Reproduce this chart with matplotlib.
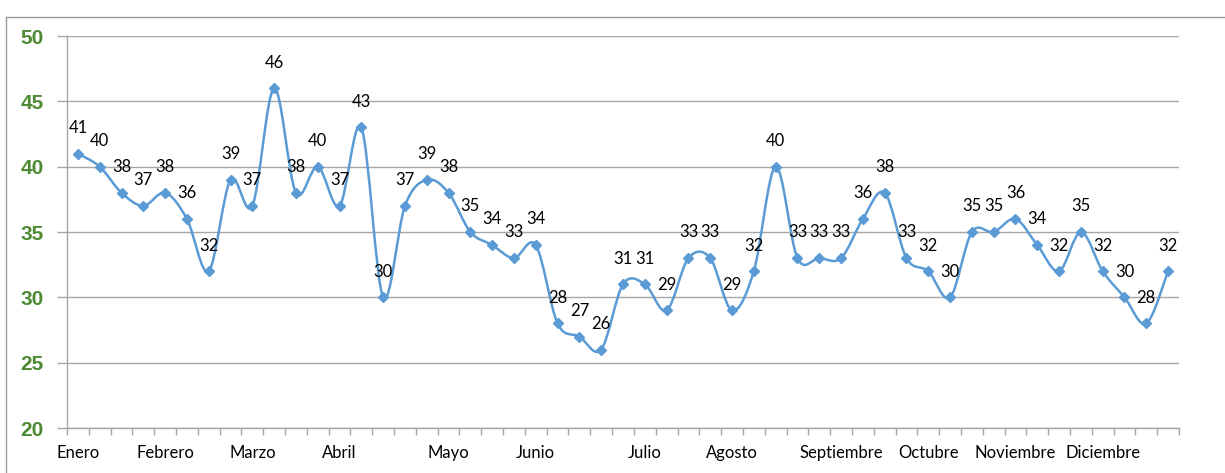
import numpy as np
import matplotlib.pyplot as plt
from matplotlib.path import Path
from matplotlib.patches import PathPatch, Rectangle

plt.rcParams['font.family'] = ['Lato', 'DejaVu Sans']

# datos
values = [41, 40, 38, 37, 38, 36, 32, 39, 37, 46, 38, 40, 37, 43, 30, 37, 39, 38, 35, 34,
          33, 34, 28, 27, 26, 31, 31, 29, 33, 33, 29, 32, 40, 33, 33, 33, 36, 38, 33, 32,
          30, 35, 35, 36, 34, 32, 35, 32, 30, 28, 32]
months = ['Enero', 'Febrero', 'Marzo', 'Abril', 'Mayo', 'Junio', 'Julio', 'Agosto',
          'Septiembre', 'Octubre', 'Noviembre', 'Diciembre']
month_start = [0, 4, 8, 12, 17, 21, 26, 30, 35, 39, 43, 47]
y_ticks = [20, 25, 30, 35, 40, 45, 50]

categories = [''] * len(values)
for m, i in zip(months, month_start):
    categories[i] = m

line_color = '#5B9BD5'
grid_color = '#A6A6A6'
green = '#4E8A34'


def smooth_path(x, y):
    # curva suavizada tipo Excel (bezier cubica, estilo catmull-rom)
    pts = np.column_stack([x, y]).astype(float)
    n = len(pts)
    verts = [pts[0]]
    codes = [Path.MOVETO]
    for i in range(n - 1):
        p0 = pts[i - 1] if i > 0 else pts[i]
        p1 = pts[i]
        p2 = pts[i + 1]
        p3 = pts[i + 2] if i + 2 < n else pts[i + 1]
        c1 = p1 + (p2 - p0) / 6.0
        c2 = p2 - (p3 - p1) / 6.0
        verts += [c1, c2, p2]
        codes += [Path.CURVE4] * 3
    return Path(verts, codes)


fig = plt.figure(figsize=(12.25, 4.73), dpi=100)
ax = fig.add_axes([67 / 1225, 1 - 428 / 473, (1179 - 67) / 1225, (428 - 36) / 473])

# borde exterior del grafico
fig.patches.append(Rectangle((6 / 1225, -0.1), 1.2, 1.1 - 17 / 473, transform=fig.transFigure,
                             fill=False, edgecolor='#9A9A9A', linewidth=1.0))

x = np.arange(len(values))
ax.add_patch(PathPatch(smooth_path(x, values), facecolor='none', edgecolor=line_color,
                       linewidth=1.8, zorder=3))
ax.plot(x, values, linestyle='none', marker='D', markersize=5, color=line_color, zorder=4)

for xi, v in zip(x, values):
    ax.annotate(str(v), (xi, v), xytext=(0, 18.5), textcoords='offset points',
                ha='center', va='center', fontsize=12, color='#000000')

ax.set_xlim(-0.5, len(values) - 0.5)
ax.set_ylim(20, 50)
ax.set_yticks(y_ticks)
ax.set_yticklabels([str(t) for t in y_ticks], fontsize=15, fontweight='bold', color=green,
                   family=['Liberation Sans', 'DejaVu Sans'])
ax.grid(axis='y', color=grid_color, linewidth=1.0)
ax.set_axisbelow(True)

ax.set_xticks(x)
ax.set_xticklabels(categories, fontsize=12)
ax.set_xticks(np.arange(len(values) + 1) - 0.5, minor=True)
ax.tick_params(axis='x', which='major', length=0, pad=12)
ax.tick_params(axis='x', which='minor', length=5, color=grid_color, width=1.0)
ax.tick_params(axis='y', length=7, color=grid_color, width=1.0, pad=10)

for s in ['top', 'right']:
    ax.spines[s].set_visible(False)
for s in ['left', 'bottom']:
    ax.spines[s].set_color(grid_color)
    ax.spines[s].set_linewidth(1.0)

fig.savefig('out.png', dpi=100)
